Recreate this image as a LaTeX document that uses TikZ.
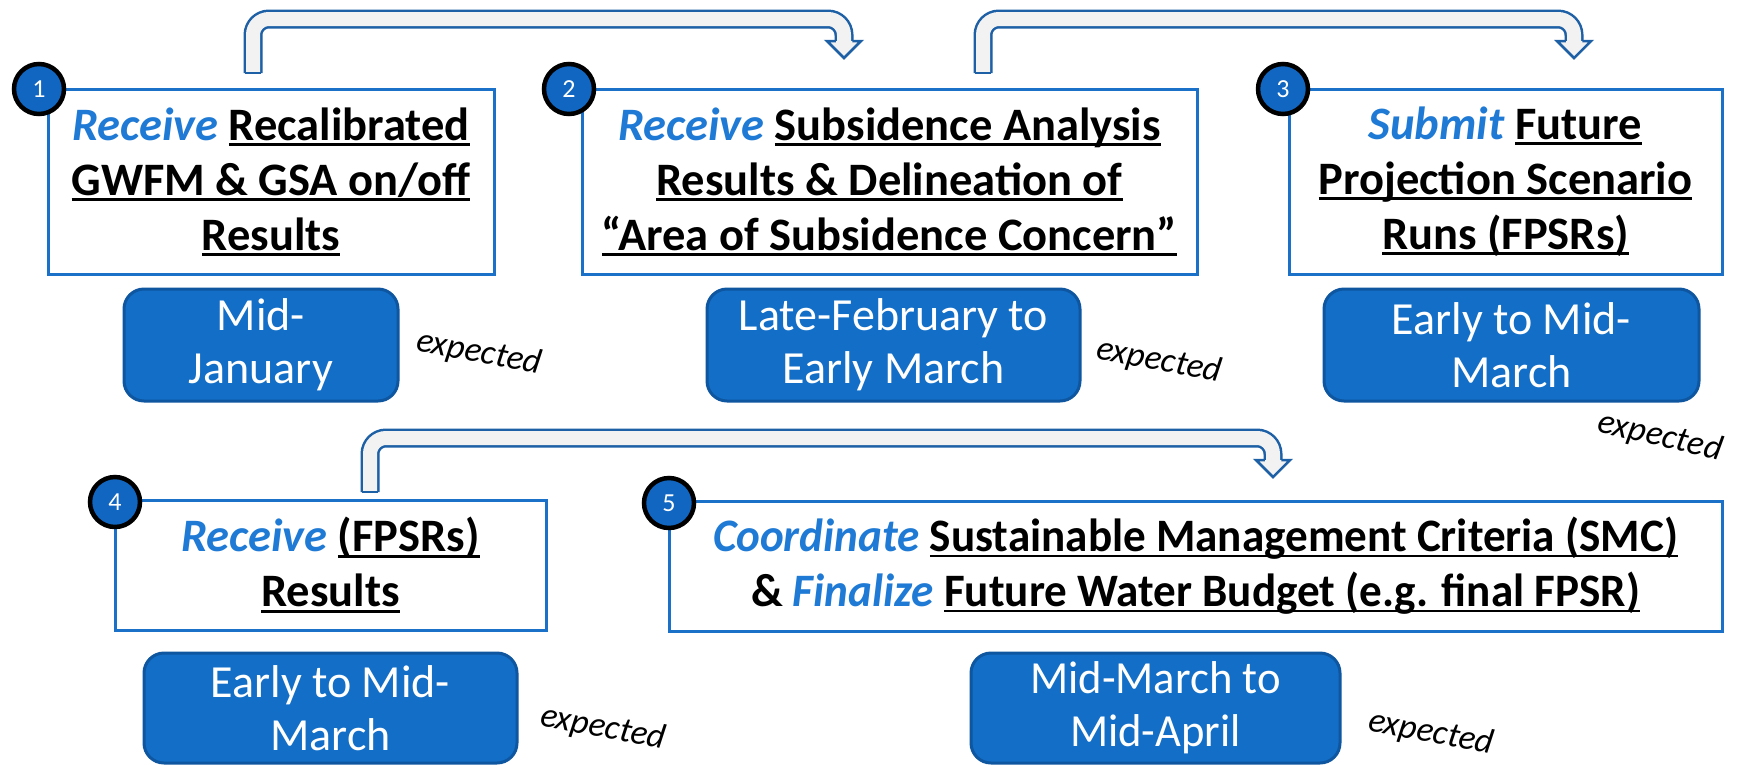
\documentclass[tikz,border=0pt]{standalone}
\usepackage{graphicx}
\usepackage{fontspec}
\setmainfont{Carlito}
\definecolor{boxblue}{RGB}{27,112,200}
\definecolor{datefill}{RGB}{18,110,198}
\definecolor{dateborder}{RGB}{14,86,160}
\definecolor{verbblue}{RGB}{30,122,212}
\definecolor{circfill}{RGB}{16,102,192}
\definecolor{arrowblue}{RGB}{30,96,165}
\definecolor{arrowfill}{RGB}{242,242,242}
\newcommand{\ulx}[1]{\setbox0\hbox{#1}\rlap{\rule[-0.12em]{\wd0}{0.06em}}\box0}
\newcommand{\vrb}[1]{\textcolor{verbblue}{\textit{#1}}}
\newcommand{\cond}[1]{\scalebox{0.97}[1]{#1}}
\tikzset{
 stepbox/.style={draw=boxblue, line width=3pt, fill=white, align=center,
   font=\fontsize{46.5}{55}\selectfont\bfseries, inner sep=0pt},
 datebox/.style={draw=dateborder, line width=3pt, fill=datefill, rounded corners=20pt,
   text=white, align=center, font=\fontsize{46}{53}\selectfont, inner sep=0pt},
 numc/.style={circle, draw=black, line width=4.5pt, fill=circfill, minimum size=50pt,
   text=white, font=\fontsize{26}{26}\selectfont, inner sep=0pt},
 expl/.style={font=\fontsize{35}{35}\selectfont\itshape, rotate=-11},
 flow/.style={draw=arrowblue, line width=2.5pt, double=arrowfill, double distance=14pt,
   rounded corners=16pt},
 flowhead/.style={draw=arrowblue, line width=2.5pt, fill=arrowfill, line join=miter},
 flowcap/.style={draw=arrowblue, line width=2.5pt}
}
\begin{document}
\begin{tikzpicture}[x=1pt,y=-1pt]
\useasboundingbox[fill=white] (0,0) rectangle (1743,764);

% arrows
\coordinate (a1s) at (253,73);
\coordinate (a1e) at (844,42);
\draw[flow] (a1s) -- (253,19) -- (844,19) -- (a1e);
\filldraw[flowhead] (835.75,41) -- (827,41) -- (844,58) -- (861,41) -- (852.25,41);
\draw[flowcap] (244.75,73) -- (261.25,73);

\coordinate (a2s) at (983,73);
\coordinate (a2e) at (1574,42);
\draw[flow] (a2s) -- (983,19) -- (1574,19) -- (a2e);
\filldraw[flowhead] (1565.75,41) -- (1557,41) -- (1574,58) -- (1591,41) -- (1582.25,41);
\draw[flowcap] (974.75,73) -- (991.25,73);

\coordinate (a3s) at (370,492);
\coordinate (a3e) at (1273,461);
\draw[flow] (a3s) -- (370,438) -- (1273,438) -- (a3e);
\filldraw[flowhead] (1264.75,460) -- (1256,460) -- (1273,477) -- (1290,460) -- (1281.25,460);
\draw[flowcap] (361.75,492) -- (378.25,492);

% step boxes
\node[stepbox, minimum width=446pt, minimum height=185pt] (b1) at (271,181.5)
 {\vrb{Receive} \ulx{Recalibrated}\\ \ulx{GWFM \& GSA on/off}\\ \ulx{Results}};
\node[stepbox, minimum width=615pt, minimum height=185pt] (b2) at (889.5,181.5)
 {\vrb{Receive} \ulx{Subsidence Analysis}\\ \ulx{Results \& Delineation of}\\ \ulx{“Area of Subsidence Concern”}};
\node[stepbox, minimum width=433pt, minimum height=185pt] (b3) at (1505.5,181.5)
 {\vrb{Submit} \ulx{Future}\\ \ulx{Projection Scenario}\\ \ulx{Runs (FPSRs)}};
\node[stepbox, minimum width=431pt, minimum height=130pt] (b4) at (330.5,565)
 {\vrb{Receive} \ulx{(FPSRs)}\\ \ulx{Results}};
\node[stepbox, minimum width=1053pt, minimum height=130pt] (b5) at (1195.5,566)
 {\cond{\vrb{Coordinate} \ulx{Sustainable Management Criteria (SMC)}}\\ \cond{\& \vrb{Finalize} \ulx{Future Water Budget (e.g. final FPSR)}}};

% number circles
\node[numc] (n1) at (39,89) {1};
\node[numc] (n2) at (569,89) {2};
\node[numc] (n3) at (1283,89) {3};
\node[numc] (n4) at (115,502) {4};
\node[numc] (n5) at (669,503) {5};

% date boxes
\node[datebox, minimum width=274pt, minimum height=112pt] (d1) at (261,345) {Mid-\\January};
\node[datebox, minimum width=373pt, minimum height=112pt] (d2) at (893.5,345) {Late-February to\\Early March};
\node[datebox, minimum width=375pt, minimum height=112pt] (d3) at (1511.5,345) {Early to Mid-\\March};
\node[datebox, minimum width=373pt, minimum height=110pt] (d4) at (330.5,708) {Early to Mid-\\March};
\node[datebox, minimum width=369pt, minimum height=110pt] (d5) at (1155.5,708) {\cond{Mid-March to}\\\cond{Mid-April}};

% expected labels
\node[expl] (e1) at (479,353) {expected};
\node[expl] (e2) at (1159,361) {expected};
\node[expl, rotate=-2] (e3) at (1660,437) {expected};
\node[expl] (e4) at (603,728) {expected};
\node[expl] (e5) at (1431,733) {expected};
\end{tikzpicture}
\end{document}
